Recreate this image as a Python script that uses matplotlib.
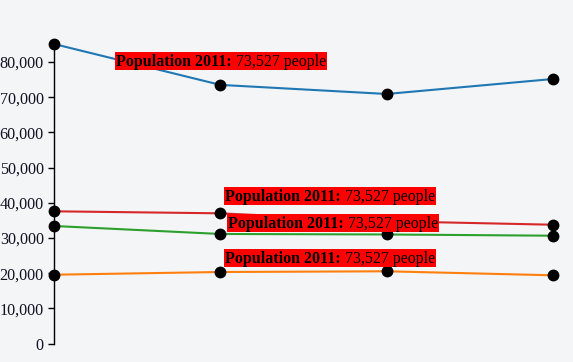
import matplotlib
matplotlib.use("Agg")
import matplotlib.pyplot as plt
from matplotlib.patches import Rectangle
from matplotlib.ticker import FuncFormatter

plt.rcParams["font.family"] = ["Liberation Serif", "DejaVu Serif"]

years = ["2008", "2009", "2010", "2011"]
blue = [85140, 73527, 70940, 75200]
red = [37610, 37040, 34800, 33800]
green = [33440, 31170, 31030, 30680]
orange = [19600, 20370, 20570, 19430]
series = [("#1f77b4", blue), ("#ff7f0e", orange), ("#2ca02c", green), ("#d62728", red)]
yticks = [0, 10000, 20000, 30000, 40000, 50000, 60000, 70000, 80000]
tooltip_bold = "Population 2011:"
tooltip_rest = " 73,527 people"

W, H, DPI = 573, 362, 100
bg = "#f4f5f7"
FS = 11.5
fig = plt.figure(figsize=(W / DPI, H / DPI), dpi=DPI, facecolor=bg)
ax = fig.add_axes([54 / W, (H - 343.7) / H, (553 - 54) / W, (343.7 - 44) / H])
ax.set_facecolor(bg)

xs = list(range(len(years)))
for color, vals in series:
    ax.plot(xs, vals, color=color, lw=1.5, clip_on=False, zorder=2)
for color, vals in series:
    ax.plot(xs, vals, 'o', color='black', ms=7.5, clip_on=False, zorder=3)

ax.set_xlim(0, 3)
ax.set_ylim(0, max(blue))
ax.set_yticks(yticks)
ax.yaxis.set_major_formatter(FuncFormatter(lambda v, p: f"{int(v):,}"))
ax.set_xticks([])
for s in ["top", "right", "bottom"]:
    ax.spines[s].set_visible(False)
ax.spines["left"].set_linewidth(1)
ax.tick_params(axis="y", length=4.3, width=1, pad=3, labelsize=11.6, labelcolor="#111122")

fig.canvas.draw()

# tooltips: (series values, pixel offset dx, dy from point index 1; dy downward)
tips = [(blue, -105, -33), (red, 4, -26.5), (green, 7, -20), (orange, 4, -23)]
renderer = fig.canvas.get_renderer()
for vals, dx, dy in tips:
    px, py = ax.transData.transform((1, vals[1]))
    left = px + dx
    top = py - dy
    t1 = fig.text(left + 1, top - 14, tooltip_bold, transform=None,
                  fontweight="bold", fontsize=FS,
                  color="black", zorder=6, va="baseline", ha="left")
    t2 = fig.text(0, 0, tooltip_rest, transform=None,
                  fontsize=FS, color="black",
                  zorder=6, va="baseline", ha="left")
    bb = t1.get_window_extent(renderer)
    t2.set_position((bb.x1, top - 14))
    bb2 = t2.get_window_extent(renderer)
    width = bb2.x1 - left + 1
    fig.patches.append(Rectangle((left, top - 18), width, 18, transform=None,
                                 facecolor="#ff0000", edgecolor="none", zorder=5))

fig.savefig("out.png", dpi=DPI, facecolor=bg)
